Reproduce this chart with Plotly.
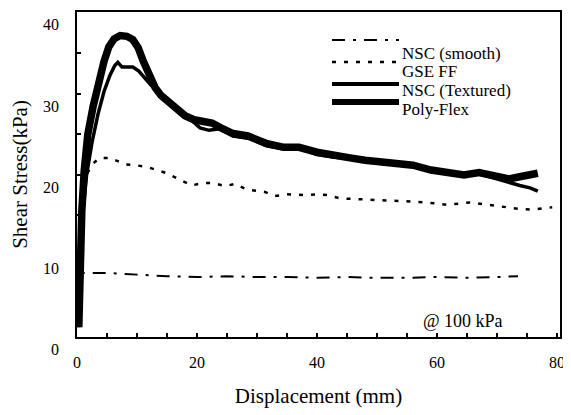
import plotly.graph_objects as go

# ---- data (displacement in mm, shear stress in kPa) ----
smooth_x = [0.3, 0.6, 5, 10, 15, 20, 25, 30, 35, 40, 45, 50, 55, 60, 65, 70, 73.5]
smooth_y = [3.0, 9.4, 9.4, 9.2, 9.0, 8.9, 9.0, 8.9, 8.9, 8.8, 8.9, 8.8, 8.8, 8.9, 8.8, 8.9, 9.0]

gse_x = [0.3, 0.6, 1, 1.6, 2.5, 3.8, 5.5, 8, 9.7, 11.6, 13.3, 15, 17.2, 19.1, 21, 22.7, 24.7, 26.3,
         28.3, 31.3, 33, 35, 38.3, 40, 41.8, 43.8, 47.2, 50.5, 53.8, 56, 59.7, 61.6, 65.5, 68.3,
         71.7, 73.8, 75.8, 79.2]
gse_y = [4.0, 12.0, 18.0, 21.5, 22.8, 23.6, 23.6, 22.8, 22.7, 22.5, 22.1, 21.7, 20.9, 20.2, 20.5, 20.5,
         20.1, 20.4, 19.7, 19.4, 18.9, 19.1, 19.0, 19.1, 19.0, 18.6, 18.5, 18.4, 18.3, 18.2, 18.0, 17.8,
         18.1, 17.8, 17.5, 17.3, 17.2, 17.5]

tex_x = [0.3, 0.6, 1, 1.6, 2.5, 3.5, 4.5, 5.5, 6.3, 6.8, 7.5, 9.3, 10.3, 11.3, 12.3, 13.3, 15, 17, 19,
         20.5, 22, 23.8, 26, 28.8, 31.6, 34.4, 37.2, 40, 42.7, 45.5, 48.3, 51.6, 56, 58.8, 61.6, 64.3,
         67.2, 69.4, 71.7, 73.8, 75.5, 76.8]
tex_y = [2.7, 11.0, 17.0, 21.5, 25.5, 29.0, 31.8, 33.8, 35.0, 35.4, 34.8, 34.8, 34.3, 33.4, 32.6, 32.0,
         30.5, 29.2, 28.3, 27.3, 27.0, 27.2, 26.3, 26.0, 25.1, 24.7, 24.8, 24.0, 23.7, 23.5, 23.2, 22.9,
         22.6, 22.0, 21.7, 21.4, 21.6, 21.1, 20.6, 20.2, 19.9, 19.5]

poly_x = [0.3, 0.5, 0.8, 1.2, 1.8, 2.7, 3.6, 4.5, 5.3, 6.2, 7.2, 8.3, 9.3, 10.2, 11, 12, 13, 14, 15,
          16.5, 18, 19.5, 21, 22.5, 24, 26, 28.5, 31.5, 34.5, 37, 40, 42.5, 45.5, 48, 51.5, 54, 56,
          59, 61.5, 64.5, 67, 69.5, 72, 74, 76.8]
poly_y = [2.7, 10.0, 17.0, 22.0, 26.5, 30.0, 33.0, 35.5, 37.3, 38.3, 38.7, 38.6, 38.2, 37.2, 35.6,
          33.8, 32.3, 31.3, 30.6, 29.6, 28.8, 28.3, 28.2, 27.9, 27.3, 26.6, 26.3, 25.4, 24.9, 24.9,
          24.3, 23.9, 23.6, 23.3, 23.0, 22.9, 22.7, 22.1, 21.8, 21.5, 21.8, 21.3, 21.0, 21.3, 21.7]

legend_labels = ["NSC (smooth)", "GSE FF", "NSC (Textured)", "Poly-Flex"]
y_tick_values = [0, 10, 20, 30, 40]
y_tick_labels = ["0", "10", "20", "30", "40"]
y_minor_ticks = [6.5, 11.5, 16.5, 21.5, 26.5, 31.5, 36.5]
x_tick_values = [0, 20, 40, 60, 80]
x_tick_labels = ["0", "20", "40", "60", "80"]
x_range = [0, 80.5]
y_range = [1.5, 41.6]

FONT = "Liberation Serif"
PAGE_OFF = 8                     # default body margin of the page
PAGE_W, PAGE_H = 571, 415
W, H = PAGE_W - PAGE_OFF, PAGE_H - PAGE_OFF
PLOT_L, PLOT_R, PLOT_T, PLOT_B = 77, 560, 12, 337   # plot area in page pixels
L = PLOT_L - PAGE_OFF
T = PLOT_T - PAGE_OFF
R = PAGE_W - PLOT_R
B = PAGE_H - PLOT_B
PW, PH = PLOT_R - PLOT_L, PLOT_B - PLOT_T


def px(x):
    return (x - PLOT_L) / PW


def py(y):
    return (PLOT_B - y) / PH


def y_to_paper(v):
    return (v - y_range[0]) / (y_range[1] - y_range[0])


DASHDOT = "13px,8px,3px,8px"
DOT = "4px,8px"

fig = go.Figure()
fig.add_trace(go.Scatter(x=smooth_x, y=smooth_y, mode="lines", name=legend_labels[0],
                         line=dict(color="black", width=2, dash=DASHDOT)))
fig.add_trace(go.Scatter(x=gse_x, y=gse_y, mode="lines", name=legend_labels[1],
                         line=dict(color="black", width=2.5, dash=DOT)))
fig.add_trace(go.Scatter(x=tex_x, y=tex_y, mode="lines", name=legend_labels[2],
                         line=dict(color="black", width=3.5)))
fig.add_trace(go.Scatter(x=poly_x, y=poly_y, mode="lines", name=legend_labels[3],
                         line=dict(color="black", width=7.5)))

annotations = []
for v, t in zip(y_tick_values, y_tick_labels):
    annotations.append(dict(x=0, xref="paper", y=y_to_paper(v), yref="paper", text=t,
                            showarrow=False, xanchor="right", yanchor="middle", xshift=-16,
                            font=dict(family=FONT, size=16, color="black")))

# manual legend (sample lines + labels)
shapes = []
sample_y = [40, 62, 84, 102]
sample_dash = [DASHDOT, DOT, "solid", "solid"]
sample_w = [2, 2.5, 4, 6]
for yy, d, w in zip(sample_y, sample_dash, sample_w):
    shapes.append(dict(type="line", xref="paper", yref="paper", x0=px(332), x1=px(399),
                       y0=py(yy), y1=py(yy), line=dict(color="black", width=w, dash=d)))
text_y = [53, 71, 90, 109]
for yy, t in zip(text_y, legend_labels):
    annotations.append(dict(x=px(400), y=py(yy), xref="paper", yref="paper", text=t,
                            showarrow=False, xanchor="left", yanchor="middle",
                            font=dict(family=FONT, size=17, color="black")))
annotations.append(dict(x=px(421), y=py(321), xref="paper", yref="paper", text="@ 100 kPa",
                        showarrow=False, xanchor="left", yanchor="middle",
                        font=dict(family=FONT, size=18, color="black")))

fig.update_layout(
    width=W, height=H,
    margin=dict(l=L, r=R, t=T, b=B, autoexpand=False),
    paper_bgcolor="white", plot_bgcolor="white",
    showlegend=False,
    font=dict(family=FONT, color="black"),
    shapes=shapes,
    annotations=annotations,
    xaxis=dict(range=x_range, automargin=False, showgrid=False, zeroline=False, showline=True,
               linecolor="black", linewidth=2, mirror=True, ticks="inside", ticklen=4, tickwidth=1.5,
               tickcolor="black", tickmode="array", tickvals=x_tick_values, ticktext=x_tick_labels,
               minor=dict(ticks="inside", ticklen=4, tickwidth=1.5, tickcolor="black", dtick=5, tick0=0),
               tickfont=dict(family=FONT, size=16, color="black"), ticklabelstandoff=10,
               title=dict(text="Displacement (mm)", font=dict(family=FONT, size=21, color="black"),
                          standoff=18)),
    yaxis=dict(range=y_range, automargin=False, showgrid=False, zeroline=False, showline=True,
               linecolor="black", linewidth=2, mirror=True, ticks="inside", ticklen=4, tickwidth=1.5,
               tickcolor="black", tickmode="array", tickvals=y_minor_ticks, showticklabels=False,
               title=dict(text="Shear Stress(kPa)", font=dict(family=FONT, size=21, color="black"),
                          standoff=44)),
)

fig.write_html("out.html")
